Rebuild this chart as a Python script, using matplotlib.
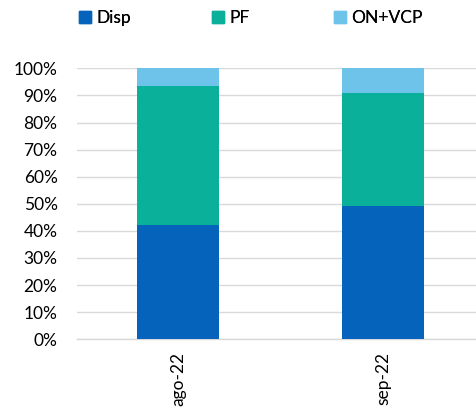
import matplotlib.pyplot as plt
import matplotlib.ticker as ticker
from matplotlib.patches import Patch

plt.rcParams['font.family'] = ['Lato', 'DejaVu Sans']

# Data
categories = ['ago-22', 'sep-22']
disp = [42.2, 49.1]
pf = [51.4, 41.9]
on_vcp = [6.4, 9.0]
series_names = ['Disp', 'PF', 'ON+VCP']

c_disp = '#0563BB'
c_pf = '#0BB09A'
c_on = '#6DC3EA'

fig = plt.figure(figsize=(4.76, 4.09), dpi=100)
ax = fig.add_axes([77 / 476, 1 - 339.3 / 409, 399 / 476, 271 / 409])

x = range(len(categories))
w = 0.4
bottom2 = [a + b for a, b in zip(disp, pf)]
ax.bar(x, disp, w, color=c_disp, zorder=3)
ax.bar(x, pf, w, bottom=disp, color=c_pf, zorder=3)
ax.bar(x, on_vcp, w, bottom=bottom2, color=c_on, zorder=3)

ax.set_xlim(-0.493, 1.454)
ax.set_ylim(0, 100)
ax.set_yticks(range(0, 101, 10))
ax.yaxis.set_major_formatter(ticker.FuncFormatter(lambda v, p: f'{v:.0f}%'))
ax.set_xticks(list(x))
ax.set_xticklabels(categories, rotation=90)
ax.tick_params(axis='both', length=0, labelsize=12.5, colors='#000000')
ax.tick_params(axis='y', pad=14)
ax.tick_params(axis='x', pad=9)

ax.grid(axis='y', color='#D9D9D9', linewidth=1, zorder=0)
for s in ['top', 'right', 'left']:
    ax.spines[s].set_visible(False)
ax.spines['bottom'].set_color('#D9D9D9')
ax.spines['bottom'].set_linewidth(1)

# legend entries placed one by one (Excel spacing is uneven)
legend_x = [65, 198, 320]
for name, col, lx in zip(series_names, [c_disp, c_pf, c_on], legend_x):
    leg = fig.legend(handles=[Patch(color=col, label=name)], loc='upper left',
                     bbox_to_anchor=(lx / 476, 1.01), frameon=False, fontsize=12.5,
                     handlelength=0.7, handleheight=0.7, handletextpad=0.3,
                     borderpad=0.3)
    fig.add_artist(leg)

fig.savefig('out.png', dpi=100)
